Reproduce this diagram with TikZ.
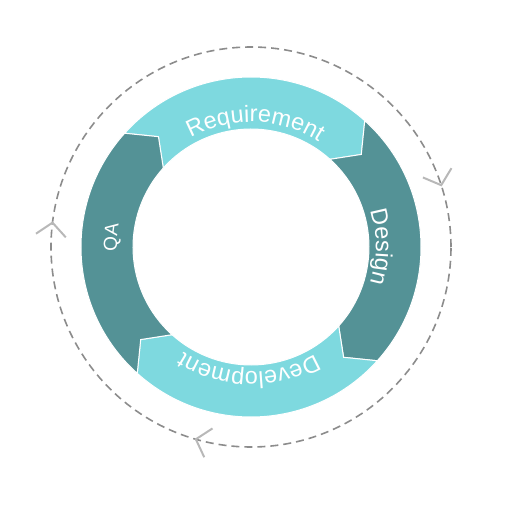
\documentclass[tikz,border=0pt]{standalone}
\usepackage{fontspec}
\setmainfont{Liberation Sans}
\usepackage{tikz}
\usetikzlibrary{decorations.text}
\definecolor{lightseg}{HTML}{7ED9DF}
\definecolor{darkseg}{HTML}{549296}
\definecolor{loopgray}{HTML}{8C8C8C}
\definecolor{markgray}{HTML}{B8B8B8}
\tikzset{segment/.style={draw=white, line width=1pt}}
\newcommand{\ringfont}{\fontsize{23.5}{28}\selectfont}
\newcommand{\smallringfont}{\fontsize{19}{23}\selectfont}

\begin{document}
\begin{tikzpicture}
\tikzstyle{loopline} = [draw=loopgray, line width=1.6pt, dash pattern=on 8pt off 5pt]
\tikzstyle{marker} = [draw=markgray, line width=2pt]
\tikzstyle{steptext} = [decorate, decoration={text along path, text align=center, text color=white}]

\useasboundingbox (-251pt,-259pt) rectangle (255pt,247pt);

% dashed cycle
    \draw [loopline] (0,0) circle[radius=200pt];
    % direction marks
    \foreach \t in {18,173,254}
        \draw [marker, rotate=\t] (215pt,13pt) -- (200pt,0pt) -- (185pt,13pt);
% segments
    \foreach \a/\col in {138/lightseg,48/darkseg,-42/lightseg,-132/darkseg}
        \path [segment, fill=\col] (\a:170pt) arc[start angle=\a, end angle=\a-90, radius=170pt]
            -- (\a-98:144pt) -- (\a-90:118pt) arc[start angle=\a-90, end angle=\a, radius=118pt]
            -- (\a-8:144pt) -- cycle;
% labels
    \path [steptext, decoration={text={|\ringfont|Requirement}}] (148:125pt) arc[start angle=148, end angle=28, radius=125pt];
    \path [steptext, decoration={text={|\ringfont|Design}}] (60:125pt) arc[start angle=60, end angle=-60, radius=125pt];
    \path [steptext, decoration={text={|\ringfont|Development}}] (-31:125pt) arc[start angle=-31, end angle=-151, radius=125pt];
    \path [steptext, decoration={text={|\smallringfont|QA}}] (236:134pt) arc[start angle=236, end angle=116, radius=134pt];
\end{tikzpicture}
\end{document}
